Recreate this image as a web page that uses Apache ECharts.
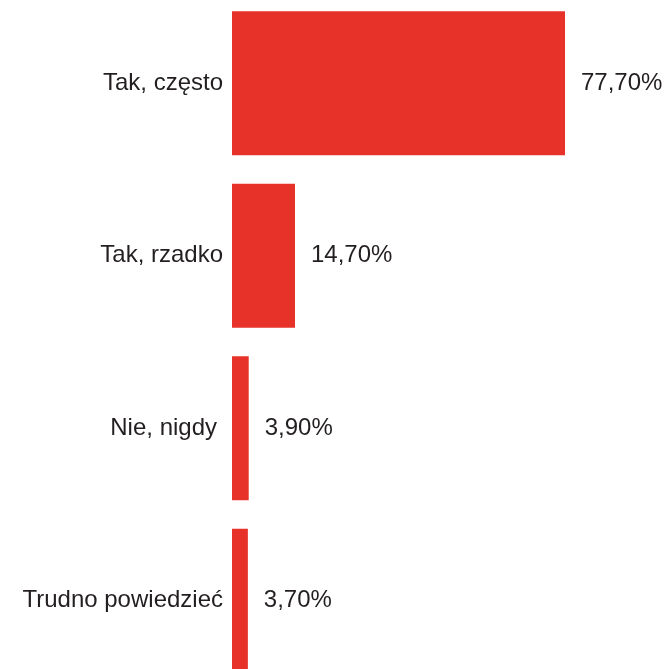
<!DOCTYPE html>
<html>
<head>
<meta charset="utf-8">
<script src="https://cdn.jsdelivr.net/npm/echarts@6/dist/echarts.min.js"></script>
<style>
  html, body { margin: 0; padding: 0; background: #ffffff; }
  #chart { width: 669px; height: 669px; }
</style>
</head>
<body>
<div id="chart"></div>
<script>
// Answer categories and their shares (percent)
const categories = ['Tak, często', 'Tak, rzadko', 'Nie, nigdy', 'Trudno powiedzieć'];
const shares = [77.7, 14.7, 3.9, 3.7];

const chart = echarts.init(document.getElementById('chart'), null, { renderer: 'canvas' });

const fontFamily = '"Liberation Sans", Arial, Helvetica, sans-serif';
const textColor = '#231f20';

// "Nie, nigdy" sits a little further from its bar than the other labels
const categoryItems = categories.map(name =>
  name === 'Nie, nigdy'
    ? { value: name, textStyle: { padding: [0, 6, 0, 0] } }
    : name
);

chart.setOption({
  animation: false,
  backgroundColor: '#ffffff',
  grid: {
    left: 232,
    width: 428.57,
    top: -3,
    height: 690,
    containLabel: false,
    outerBoundsMode: 'none'
  },
  xAxis: {
    type: 'value',
    min: 0,
    max: 100,
    show: false
  },
  yAxis: {
    type: 'category',
    data: categoryItems,
    inverse: true,
    axisLine: { show: false },
    axisTick: { show: false },
    splitLine: { show: false },
    axisLabel: {
      margin: 9,
      color: textColor,
      fontFamily: fontFamily,
      fontSize: 24
    }
  },
  series: [{
    type: 'bar',
    data: shares,
    barCategoryGap: '16.5%',
    itemStyle: { color: '#e63229' },
    label: {
      show: true,
      position: 'right',
      distance: 16,
      color: textColor,
      fontFamily: fontFamily,
      fontSize: 24,
      formatter: p => p.value.toFixed(2).replace('.', ',') + '%'
    }
  }]
});
</script>
</body>
</html>
